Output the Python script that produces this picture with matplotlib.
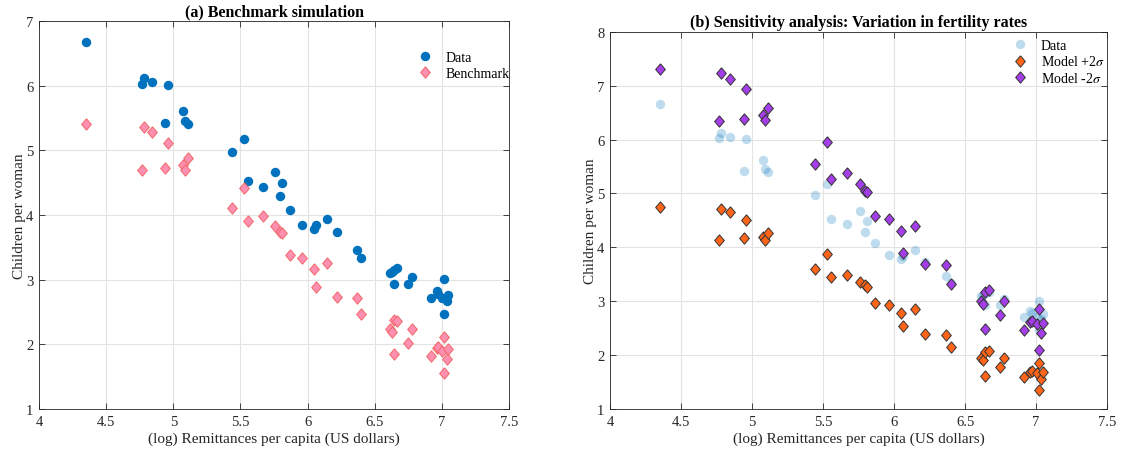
import matplotlib
matplotlib.use("Agg")
import matplotlib.pyplot as plt

# Log remittances per capita, one entry per country
remit = [4.35, 4.765, 4.78, 4.845, 4.94, 4.958, 5.074, 5.088, 5.109,
         5.44, 5.525, 5.557, 5.67, 5.757, 5.797, 5.808, 5.866, 5.962,
         6.047, 6.063, 6.148, 6.217, 6.367, 6.401,
         6.61, 6.625, 6.64, 6.668, 6.643, 6.744, 6.774,
         6.918, 6.96, 6.968, 7.003, 7.017, 7.036, 7.049, 7.017]

# Children per woman
data = [6.67, 6.03, 6.12, 6.05, 5.415, 6.01, 5.615, 5.45, 5.40,
        4.97, 5.17, 4.53, 4.425, 4.666, 4.286, 4.497, 4.08, 3.85,
        3.783, 3.844, 3.942, 3.737, 3.464, 3.331,
        3.095, 3.115, 3.15, 3.18, 2.935, 2.935, 3.048,
        2.709, 2.817, 2.78, 2.714, 3.007, 2.668, 2.755, 2.462]

benchmark = [5.41, 4.69, 5.36, 5.28, 4.72, 5.12, 4.775, 4.70, 4.877,
             4.10, 4.414, 3.91, 3.978, 3.824, 3.742, 3.72, 3.382, 3.336,
             3.17, 2.879, 3.259, 2.73, 2.714, 2.463,
             2.242, 2.19, 2.37, 2.36, 1.846, 2.026, 2.231,
             1.82, 1.95, 1.96, 1.898, 2.118, 1.78, 1.923, 1.55]

model_plus = [4.75, 4.14, 4.71, 4.65, 4.17, 4.51, 4.20, 4.14, 4.27,
              3.60, 3.883, 3.444, 3.488, 3.364, 3.30, 3.27, 2.969, 2.926,
              2.784, 2.537, 2.858, 2.40, 2.376, 2.148,
              1.95, 1.91, 2.06, 2.07, 1.605, 1.778, 1.944,
              1.586, 1.685, 1.71, 1.667, 1.852, 1.556, 1.679, 1.358]

model_minus = [7.31, 6.35, 7.24, 7.13, 6.39, 6.94, 6.46, 6.356, 6.583,
               5.54, 5.957, 5.276, 5.374, 5.172, 5.04, 5.03, 4.586, 4.519,
               4.296, 3.90, 4.40, 3.691, 3.673, 3.321,
               3.012, 2.95, 3.18, 3.20, 2.488, 2.747, 3.006,
               2.469, 2.623, 2.64, 2.574, 2.858, 2.407, 2.605, 2.093]

xticks = [4, 4.5, 5, 5.5, 6, 6.5, 7, 7.5]
xticklabels = ["4", "4.5", "5", "5.5", "6", "6.5", "7", "7.5"]

plt.rcParams["font.family"] = ["Liberation Serif", "DejaVu Serif"]
plt.rcParams["mathtext.fontset"] = "stix"

# MATLAB-like diamond, a bit taller than wide
diamond = [(0, 1), (0.85, 0), (0, -1), (-0.85, 0), (0, 1)]

fig = plt.figure(figsize=(11.21, 4.56), dpi=100)
ax1 = fig.add_axes([0.0348, 0.1009, 0.4193, 0.851])
ax2 = fig.add_axes([0.5442, 0.1009, 0.4434, 0.827])


def style_axes(ax, ymax):
    ax.set_xlim(4, 7.5)
    ax.set_ylim(1, ymax)
    ax.set_xticks(xticks)
    ax.set_xticklabels(xticklabels)
    ax.set_yticks(range(1, ymax + 1))
    ax.grid(True, color="#e3e3e3", linewidth=0.8)
    ax.set_axisbelow(True)
    ax.tick_params(direction="in", top=True, right=True, labelsize=10.5,
                   colors="#262626", length=4, width=0.6, pad=4)
    for sp in ax.spines.values():
        sp.set_color("#262626")
        sp.set_linewidth(0.6)
    ax.set_xlabel("(log) Remittances per capita (US dollars)", fontsize=11,
                  color="#262626", labelpad=3)
    ax.set_ylabel("Children per woman", fontsize=11, color="#262626",
                  labelpad=0)


# (a) Benchmark simulation
ax1.plot(remit, data, "o", color="#0072BD", markersize=6.8,
         markeredgewidth=0, label="Data")
ax1.plot(remit, benchmark, marker=diamond, linestyle="none",
         markerfacecolor="#ff8fb0", markeredgecolor="#f06868",
         markeredgewidth=0.7, markersize=8.2, label="Benchmark")
style_axes(ax1, 7)
ax1.set_title("(a) Benchmark simulation", fontsize=11.5, fontweight="bold",
              pad=4)
ax1.legend(loc="upper left", bbox_to_anchor=(0.78, 0.955), frameon=False,
           fontsize=10, handletextpad=1.0, labelspacing=0.2, handlelength=1.0)

# (b) Sensitivity analysis
ax2.plot(remit, data, "o", color="#0072BD", alpha=0.25, markersize=6.8,
         markeredgewidth=0, label="Data")
ax2.plot(remit, model_plus, marker=diamond, linestyle="none",
         markerfacecolor="#ff6418", markeredgecolor="#333333",
         markeredgewidth=0.7, markersize=8.2, label="Model +2$\\sigma$")
ax2.plot(remit, model_minus, marker=diamond, linestyle="none",
         markerfacecolor="#a43ee8", markeredgecolor="#333333",
         markeredgewidth=0.7, markersize=8.2, label="Model -2$\\sigma$")
style_axes(ax2, 8)
ax2.set_title("(b) Sensitivity analysis: Variation in fertility rates",
              fontsize=11.5, fontweight="bold", pad=4)
ax2.legend(loc="upper left", bbox_to_anchor=(0.786, 1.015), frameon=False,
           fontsize=10, handletextpad=1.0, labelspacing=0.2, handlelength=1.0)

fig.savefig("out.png", dpi=100)
